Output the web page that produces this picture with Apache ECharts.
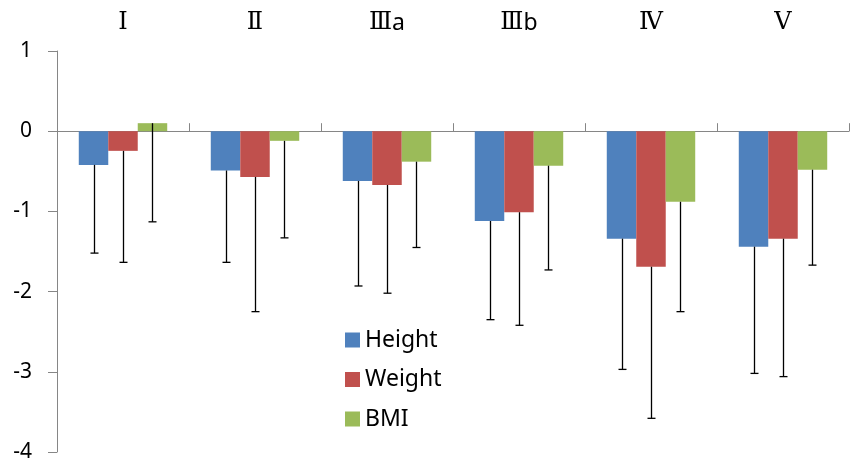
<!DOCTYPE html>
<html>
<head>
<meta charset="utf-8">
<script src="https://cdn.jsdelivr.net/npm/echarts@6/dist/echarts.min.js"></script>
<style>html,body{margin:0;padding:0;background:#fff}#c{width:864px;height:475px}</style>
</head>
<body>
<div id="c"></div>
<script>
const categories = ['Ⅰ', 'Ⅱ', 'Ⅲa', 'Ⅲb', 'Ⅳ', 'Ⅴ'];
const seriesNames = ['Height', 'Weight', 'BMI'];
const heightMean = [-0.42, -0.49, -0.62, -1.12, -1.34, -1.44];
const weightMean = [-0.245, -0.57, -0.67, -1.01, -1.69, -1.34];
const bmiMean = [0.10, -0.12, -0.38, -0.43, -0.88, -0.48];
const heightSD = [1.10, 1.145, 1.31, 1.23, 1.63, 1.58];
const weightSD = [1.39, 1.68, 1.35, 1.41, 1.89, 1.72];
const bmiSD = [1.23, 1.21, 1.07, 1.30, 1.37, 1.19];
const yTicks = [-4, -3, -2, -1, 0, 1];

const colors = ['#4F81BD', '#C0504D', '#9BBB59'];
const means = [heightMean, weightMean, bmiMean];
const sds = [heightSD, weightSD, bmiSD];
const gapPct = 0.33;

const chart = echarts.init(document.getElementById('c'));

function errorSeries(si) {
  const data = categories.map((c, i) => [i, means[si][i], means[si][i] - sds[si][i]]);
  return {
    type: 'custom',
    xAxisIndex: 0,
    z: 10,
    silent: true,
    data: data,
    renderItem: function (params, api) {
      const idx = api.value(0);
      const top = api.coord([idx, api.value(1)]);
      const bot = api.coord([idx, api.value(2)]);
      const band = api.size([1, 0])[0];
      const bw = band * (1 - gapPct) / 3;
      const x = Math.round(top[0] + (si - 1) * bw) + 0.5;
      const cap = 4;
      const style = { stroke: '#000', lineWidth: 1.3, fill: null };
      return {
        type: 'group',
        children: [
          { type: 'line', shape: { x1: x, y1: top[1], x2: x, y2: bot[1] }, style: style },
          { type: 'line', shape: { x1: x - cap, y1: bot[1], x2: x + cap, y2: bot[1] }, style: style }
        ]
      };
    }
  };
}

const barSeries = seriesNames.map((n, si) => ({
  name: n,
  type: 'bar',
  xAxisIndex: 0,
  data: means[si],
  barGap: '0%',
  barCategoryGap: (gapPct * 100) + '%',
  itemStyle: { color: colors[si] }
}));

function catLabel(v) {
  const m = v.match(/^([\u2160-\u217F]+)(.*)$/);
  if (!m) return v;
  return '{r|' + m[1] + '}' + (m[2] ? '{s|' + m[2] + '}' : '');
}

chart.setOption({
  animation: false,
  color: colors,
  grid: { left: 57, right: 15, top: 51, bottom: 23, containLabel: false },
  legend: {
    orient: 'vertical',
    left: 340,
    top: 323,
    itemWidth: 15,
    itemHeight: 15,
    itemGap: 15.5,
    icon: 'rect',
    data: seriesNames,
    textStyle: { fontFamily: 'Noto Sans', fontSize: 23, lineHeight: 24, color: '#000', padding: [0, 0, 0, 0] }
  },
  xAxis: [
    {
      type: 'category',
      data: categories,
      position: 'top',
      axisLine: { show: false, onZero: false },
      axisTick: { show: false },
      axisLabel: {
        margin: 16,
        color: '#000',
        formatter: catLabel,
        rich: {
          r: { fontFamily: 'DejaVu Serif', fontSize: 24, color: '#000', verticalAlign: 'bottom', lineHeight: 26 },
          s: { fontFamily: 'Noto Sans', fontSize: 23, color: '#000', verticalAlign: 'bottom', lineHeight: 26 }
        }
      }
    },
    {
      type: 'category',
      data: categories,
      position: 'bottom',
      axisLine: { show: true, onZero: true, lineStyle: { color: '#868686', width: 1 } },
      axisTick: { show: true, inside: true, length: 8, lineStyle: { color: '#868686' } },
      axisLabel: { show: false }
    }
  ],
  yAxis: {
    type: 'value',
    min: yTicks[0],
    max: yTicks[yTicks.length - 1],
    interval: 1,
    splitLine: { show: false },
    axisLine: { show: true, lineStyle: { color: '#868686', width: 1 } },
    axisTick: { show: true, length: 9, lineStyle: { color: '#868686' } },
    axisLabel: { margin: 25, fontFamily: 'Noto Sans', fontSize: 21, color: '#000' }
  },
  series: barSeries.concat([errorSeries(0), errorSeries(1), errorSeries(2)])
});
</script>
</body>
</html>
